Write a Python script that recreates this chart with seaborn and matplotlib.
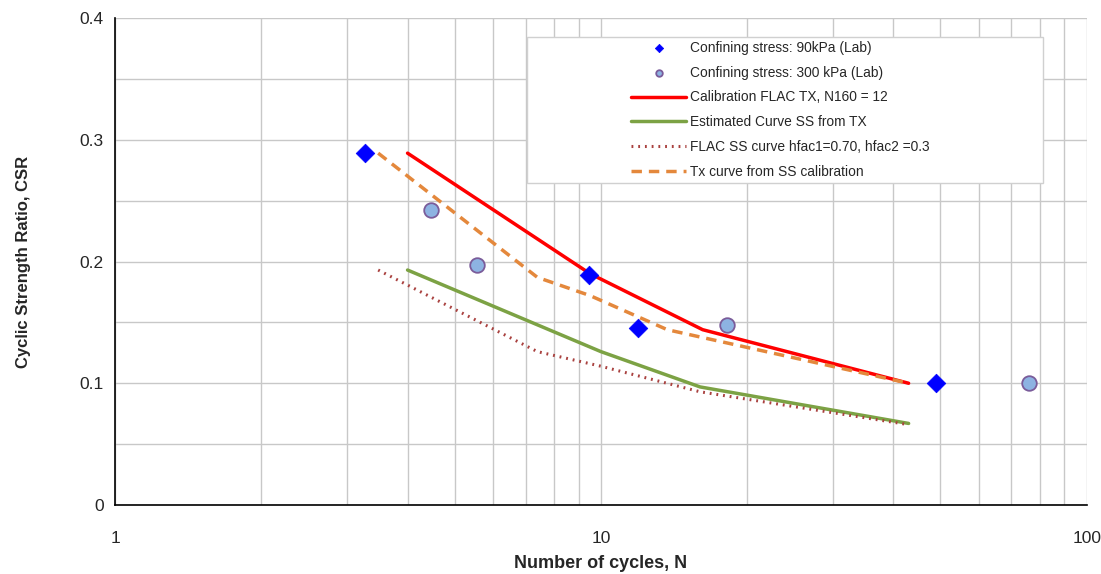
import numpy as np
import pandas as pd
import matplotlib
matplotlib.use('Agg')
import matplotlib.pyplot as plt
import seaborn as sns
from matplotlib.patches import Rectangle
from matplotlib.ticker import LogLocator, MultipleLocator, FixedLocator, FixedFormatter, NullFormatter

# Lab data
n_90 = [3.27, 9.45, 11.9, 49.0]
csr_90 = [0.289, 0.189, 0.145, 0.100]
n_300 = [4.47, 5.56, 18.2, 76.0]
csr_300 = [0.242, 0.197, 0.148, 0.100]

# Curves
n_flac_tx = [4.0, 9.5, 16.2, 43.0]
csr_flac_tx = [0.289, 0.190, 0.144, 0.100]
n_est_ss = [4.0, 10.0, 16.0, 43.0]
csr_est_ss = [0.193, 0.126, 0.097, 0.067]
n_flac_ss = [3.48, 7.4, 10.0, 16.0, 43.0]
csr_flac_ss = [0.193, 0.126, 0.114, 0.093, 0.066]
n_tx_ss = [3.48, 7.4, 9.5, 13.7, 43.0]
csr_tx_ss = [0.289, 0.187, 0.172, 0.144, 0.100]

sns.set_style('white')
plt.rcParams['font.family'] = ['Liberation Sans', 'DejaVu Sans']

fig = plt.figure(figsize=(11.01, 5.74), dpi=100)
ax = fig.add_axes([0.1045, 0.1202, 0.8825, 0.8484])

grid_col = '#c8c8c8'

sns.scatterplot(x=n_90, y=csr_90, marker='D', s=90, color='#0000ff', edgecolor='#0000ff',
                linewidth=0.5, ax=ax, label='Confining stress: 90kPa (Lab)', zorder=5)
sns.scatterplot(x=n_300, y=csr_300, marker='o', s=110, color='#8db3e2', edgecolor='#7a5c9a',
                linewidth=1.3, ax=ax, label='Confining stress: 300 kPa (Lab)', zorder=5)
sns.lineplot(x=n_flac_tx, y=csr_flac_tx, sort=False, estimator=None, color='#ff0000', lw=2.5,
             ax=ax, label='Calibration FLAC TX, N160 = 12', zorder=4)
sns.lineplot(x=n_est_ss, y=csr_est_ss, sort=False, estimator=None, color='#7ca244', lw=2.5,
             ax=ax, label='Estimated Curve SS from TX', zorder=4)
sns.lineplot(x=n_flac_ss, y=csr_flac_ss, sort=False, estimator=None, color='#a9413f', lw=2.2,
             ax=ax, label='FLAC SS curve hfac1=0.70, hfac2 =0.3', zorder=4)
ax.lines[-1].set_linestyle((0, (0.6, 1.6)))
sns.lineplot(x=n_tx_ss, y=csr_tx_ss, sort=False, estimator=None, color='#e4883c', lw=2.5,
             ax=ax, label='Tx curve from SS calibration', zorder=4)
ax.lines[-1].set_linestyle((0, (3, 2)))

ax.set_xscale('log')
ax.set_xlim(1, 100)
ax.set_ylim(0, 0.4)
ax.xaxis.set_major_locator(FixedLocator([1, 10, 100]))
ax.xaxis.set_major_formatter(FixedFormatter(['1', '10', '100']))
ax.xaxis.set_minor_locator(LogLocator(base=10, subs=np.arange(2, 10)))
ax.xaxis.set_minor_formatter(NullFormatter())
ax.yaxis.set_major_locator(FixedLocator([0, 0.1, 0.2, 0.3, 0.4]))
ax.yaxis.set_major_formatter(FixedFormatter(['0', '0.1', '0.2', '0.3', '0.4']))
ax.yaxis.set_minor_locator(MultipleLocator(0.05))

ax.grid(True, which='both', color=grid_col, lw=1.0, zorder=0)
ax.set_axisbelow(True)
ax.tick_params(axis='both', which='major', labelsize=12.5, length=5, direction='in',
               color='#404040')
ax.tick_params(axis='both', which='minor', length=4, direction='in', color='#404040')
ax.tick_params(axis='x', pad=19)
ax.tick_params(axis='y', pad=8)

for side in ['left', 'bottom']:
    ax.spines[side].set_color('black')
    ax.spines[side].set_linewidth(1.2)
for side in ['top', 'right']:
    ax.spines[side].set_visible(False)

ax.set_xlabel('Number of cycles, N', fontsize=13, fontweight='bold', labelpad=6)
ax.set_ylabel('Cyclic Strength Ratio, CSR', fontsize=12, fontweight='bold', labelpad=35)

# legend frame (wider than its contents, as in the reference)
frame = Rectangle((527 / 1101, 1 - 183 / 574), 516 / 1101, 146 / 574, transform=fig.transFigure,
                  facecolor='white', edgecolor='#d0d0d0', lw=1.0, zorder=6)
ax.add_patch(frame)
frame.set_clip_on(False)

leg = ax.legend(loc='upper left', bbox_to_anchor=(620 / 1101, 1 - 30 / 574),
                bbox_transform=fig.transFigure, fontsize=9.9, frameon=False,
                handlelength=4.0, handletextpad=0.3, labelspacing=0.78, borderpad=0.3,
                markerscale=0.45)
leg.set_zorder(7)

plt.savefig('out.png', dpi=100)
